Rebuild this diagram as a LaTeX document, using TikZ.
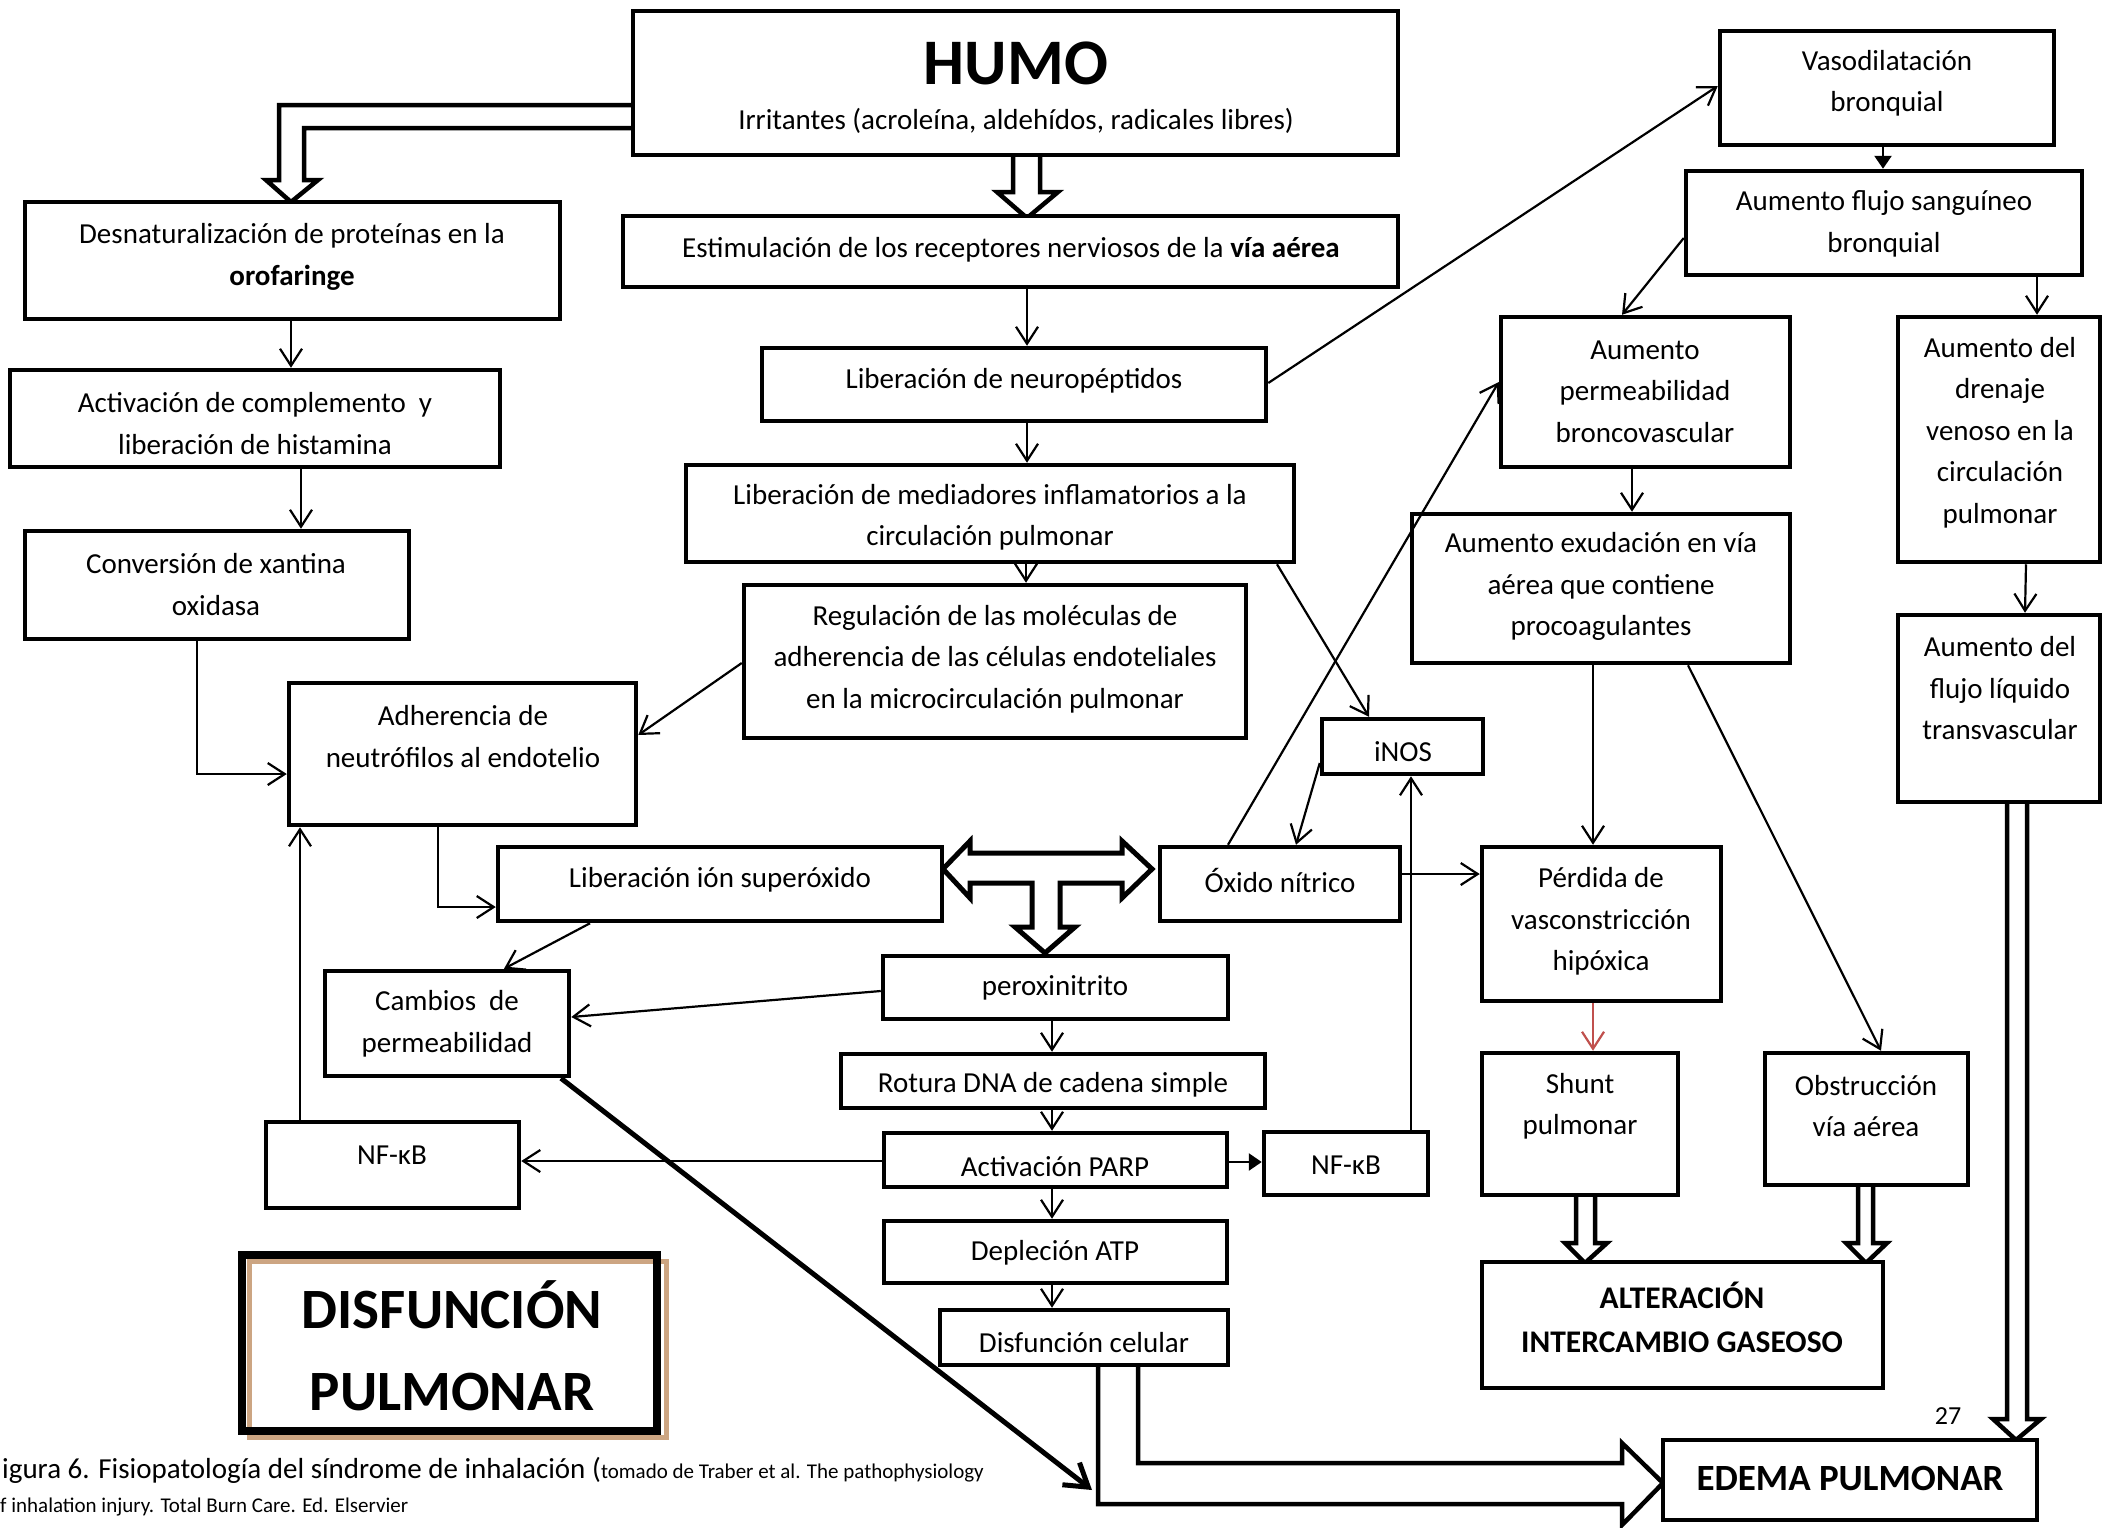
\documentclass[tikz,border=0pt]{standalone}
\usepackage{fontspec}
\setmainfont{Carlito}
\usetikzlibrary{arrows.meta,calc}
\definecolor{redarrow}{RGB}{192,80,77}
\definecolor{tanshadow}{RGB}{204,165,130}

% box from its corner coordinates: [style]{name}{x1}{y1}{x2}{y2}
\newcommand\cornerbox[6][]{%
  \pgfmathsetmacro\cbw{#5-#3}%
  \pgfmathsetmacro\cbh{#6-#4}%
  \pgfmathsetmacro\cbx{(#3+#5)/2}%
  \pgfmathsetmacro\cby{(#4+#6)/2}%
  \node[box,#1,minimum width=\cbw pt,minimum height=\cbh pt] (#2) at (\cbx,\cby) {};}

\begin{document}
\begin{tikzpicture}[x=1pt,y=-1pt,
  box/.style={draw,line width=4.5pt,fill=white,inner sep=0pt,rectangle},
  txt/.style={align=center,inner sep=0pt,font=\fontsize{29}{41.5}\selectfont},
  conn/.style={line width=2.2pt,-{Straight Barb[length=17pt,width=22pt]}},
  solidconn/.style={line width=2.6pt,-{Triangle[length=13pt,width=17pt]}},
  heavyconn/.style={line width=5pt,-{Straight Barb[length=22pt,width=28pt]}},
  hollow/.style={line width=4.5pt,fill=white,line join=miter},
]
\fill[white] (0,0) rectangle (2104,1527);
\useasboundingbox (0,0) rectangle (2104,1527);

% ---------- block arrows ----------
\draw[hollow] (633,105) -- (279,105) -- (279,180) -- (266,180) -- (291,202)
  -- (318,180) -- (304,180) -- (304,128) -- (633,128);
\draw[hollow] (1013,155) -- (1013,192) -- (997,192) -- (1027,218) -- (1058,192)
  -- (1040,192) -- (1040,155);
\draw[hollow] (2007,802) -- (2007,1419) -- (1993,1419) -- (2016,1440) -- (2041,1419)
  -- (2027,1419) -- (2027,802);
\draw[hollow] (1576,1195) -- (1576,1243) -- (1565,1243) -- (1585,1263) -- (1607,1243)
  -- (1595,1243) -- (1595,1195);
\draw[hollow] (1858,1185) -- (1858,1243) -- (1846,1243) -- (1866,1263) -- (1887,1243)
  -- (1873,1243) -- (1873,1185);
\draw[hollow] (1098,1365) -- (1098,1504) -- (1622,1504) -- (1622,1525) -- (1663,1483)
  -- (1622,1443) -- (1622,1463) -- (1138,1463) -- (1138,1365);
\draw[hollow,line width=5pt] (943,869) -- (970,841) -- (970,853) -- (1122,853) -- (1122,841)
  -- (1152,869) -- (1122,898) -- (1122,883) -- (1060,883) -- (1060,927) -- (1075,927)
  -- (1045,953) -- (1015,927) -- (1032,927) -- (1032,883) -- (970,883) -- (970,898) -- cycle;
\coordinate (edemain) at (1092,1490);

% ---------- boxes ----------
\cornerbox{humo}{633}{11}{1398}{155}
\cornerbox{estim}{623}{216}{1398}{287}
\cornerbox{desn}{25}{202}{560}{319}
\cornerbox{activ}{10}{370}{500}{467}
\cornerbox{conv}{25}{531}{409}{639}
\cornerbox{adh}{289}{683}{636}{825}
\cornerbox{regul}{744}{585}{1246}{738}
\cornerbox{neuro}{762}{348}{1266}{421}
\cornerbox{media}{686}{465}{1294}{562}
\cornerbox{inos}{1322}{719}{1483}{774}
\cornerbox{oxido}{1160}{847}{1400}{921}
\cornerbox{perdida}{1482}{847}{1721}{1001}
\cornerbox{permb}{1501}{317}{1790}{467}
\cornerbox{exud}{1412}{514}{1790}{663}
\cornerbox{vaso}{1720}{31}{2054}{145}
\cornerbox{flujo}{1686}{171}{2082}{275}
\cornerbox{drenaje}{1898}{317}{2100}{562}
\cornerbox{liquido}{1898}{615}{2100}{802}
\cornerbox{edema}{1663}{1440}{2037}{1520}
\cornerbox{shunt}{1482}{1053}{1678}{1195}
\cornerbox{obst}{1765}{1053}{1968}{1185}
\cornerbox{alter}{1482}{1262}{1883}{1388}
\cornerbox{superox}{498}{847}{942}{921}
\cornerbox{perox}{883}{956}{1228}{1019}
\cornerbox{cambios}{325}{971}{569}{1076}
\cornerbox{rotura}{841}{1054}{1265}{1108}
\cornerbox{parp}{884}{1133}{1227}{1187}
\cornerbox{nfr}{1264}{1132}{1428}{1195}
\cornerbox{nfl}{266}{1122}{519}{1208}
\cornerbox{atp}{884}{1221}{1227}{1283}
\cornerbox{celular}{940}{1310}{1228}{1365}

% framed title box with its tan shadow line
\fill[white] (242,1254.5) rectangle (657,1431);
\draw[tanshadow,line width=5pt] (249.5,1261) rectangle (666,1437.5);
\cornerbox[fill=none,line width=8pt]{disf}{242}{1254.5}{657}{1431}

% ---------- texts ----------
\node[inner sep=0pt,font=\fontsize{65}{70}\selectfont\bfseries] (humo-t) at (1016,63) {HUMO};
\node[txt] (humo-s) at (1016,121) {Irritantes (acroleína, aldehídos, radicales libres)};
\node[txt] (estim-t) at (1011,250) {Estimulación de los receptores nerviosos de la \textbf{vía aérea}};
\node[txt] (desn-t) at (292,257) {Desnaturalización de proteínas en la\\\textbf{orofaringe}};
\node[txt] (activ-t) at (255,423.5) {Activación de complemento\ \ y\\liberación de histamina};
\node[txt] (conv-t) at (216,584.5) {Conversión de xantina\\oxidasa};
\node[txt] (adh-t) at (463,736.5) {Adherencia de\\neutrófilos al endotelio};
\node[txt] (regul-t) at (995,659) {Regulación de las moléculas de\\adherencia de las células endoteliales\\en la microcirculación pulmonar};
\node[txt] (neuro-t) at (1014,381) {Liberación de neuropéptidos};
\node[txt] (media-t) at (990,517.5) {Liberación de mediadores inflamatorios a la\\circulación pulmonar};
\node[txt] (inos-t) at (1403,752) {iNOS};
\node[txt] (oxido-t) at (1280,880) {Óxido nítrico};
\node[txt] (perdida-t) at (1601,921.5) {Pérdida de\\vasconstricción\\hipóxica};
\node[txt] (permb-t) at (1645,391.5) {Aumento\\permeabilidad\\broncovascular};
\node[txt] (exud-t) at (1601,586.5) {Aumento exudación en vía\\aérea que contiene\\procoagulantes};
\node[txt] (vaso-t) at (1887,83.5) {Vasodilatación\\bronquial};
\node[txt] (flujo-t) at (1884,224) {Aumento flujo sanguíneo\\bronquial};
\node[txt] (drenaje-t) at (2000,432.5) {Aumento del\\drenaje\\venoso en la\\circulación\\pulmonar};
\node[txt] (liquido-t) at (2000,688.5) {Aumento del\\flujo líquido\\transvascular};
\node[inner sep=0pt,font=\fontsize{37}{44}\selectfont\bfseries] (edema-t) at (1850,1478) {EDEMA PULMONAR};
\node[txt] (shunt-t) at (1580,1106) {Shunt\\pulmonar};
\node[txt] (obst-t) at (1866,1106) {Obstrucción\\vía aérea};
\node[txt,font=\fontsize{31.5}{44}\selectfont\bfseries] (alter-t) at (1682,1317) {ALTERACIÓN\\INTERCAMBIO GASEOSO};
\node[txt] (superox-t) at (720,880) {Liberación ión superóxido};
\node[txt] (perox-t) at (1055,988) {peroxinitrito};
\node[txt] (cambios-t) at (447,1023.5) {Cambios\ \ de\\permeabilidad};
\node[txt] (rotura-t) at (1053,1085) {Rotura DNA de cadena simple};
\node[txt] (parp-t) at (1055,1167) {Activación PARP};
\node[txt] (nfr-t) at (1346,1165) {NF-κB};
\node[txt] (nfl-t) at (392,1155) {NF-κB};
\node[txt] (atp-t) at (1055,1253) {Depleción ATP};
\node[txt] (celular-t) at (1084,1343) {Disfunción celular};
\node[txt,font=\fontsize{57}{82}\selectfont\bfseries] (disf-t) at (452,1346) {DISFUNCIÓN\\PULMONAR};
\node[inner sep=0pt,font=\fontsize{26}{30}\selectfont] (pagenum) at (1948,1416) {27};
\node[anchor=base west,inner sep=0pt,font=\fontsize{29}{35}\selectfont] (cap1) at (2,1478)
  {igura 6. Fisiopatología del síndrome de inhalación (\fontsize{21}{25}\selectfont tomado de Traber et al. The pathophysiology};
\node[anchor=base west,inner sep=0pt,font=\fontsize{21}{25}\selectfont] (cap2) at (0,1512)
  {f inhalation injury. Total Burn Care. Ed. Elservier};

% ---------- connectors ----------
\draw[conn] (estim.south -| 1027,0) -- (neuro.north -| 1027,0);
\draw[conn] (neuro.south -| 1027,0) -- (media.north -| 1027,0);
\draw[conn] (media.south -| 1026,0) -- (regul.north -| 1026,0);
\draw[conn] (desn.south -| 291,0) -- (activ.north -| 291,0);
\draw[conn] (activ.south -| 301,0) -- (conv.north -| 301,0);
\draw[conn] (conv.south -| 197,0) |- (adh.west |- 0,774);
\draw[conn] (regul.west |- 0,663) -- (adh.east |- 0,735);
\draw[conn] (neuro.east |- 0,383) -- (vaso.west |- 0,86);
\draw[conn] (media.south -| 1277,0) -- (inos.north -| 1369,0);
\draw[conn] (inos.west |- 0,763) -- (oxido.north -| 1296,0);
\draw[conn] (oxido.north -| 1228,0) -- (permb.west |- 0,382);
\draw[conn] (oxido.east |- 0,874) -- (perdida.west |- 0,874);
\draw[solidconn] (vaso.south -| 1883,0) -- (flujo.north -| 1883,0);
\draw[conn] (flujo.west |- 0,238) -- (permb.north -| 1622,0);
\draw[conn] (flujo.south -| 2037,0) -- (drenaje.north -| 2037,0);
\draw[conn] (drenaje.south -| 2026,0) -- (liquido.north -| 2025,0);
\draw[conn] (permb.south -| 1632,0) -- (exud.north -| 1632,0);
\draw[conn] (exud.south -| 1593,0) -- (perdida.north -| 1593,0);
\draw[conn] (exud.south -| 1688,0) -- (obst.north -| 1881,0);
\draw[conn,redarrow] (perdida.south -| 1593,0) -- (shunt.north -| 1593,0);
\draw[conn] (adh.south -| 438,0) |- (superox.west |- 0,907);
\draw[conn] (superox.south -| 590,0) -- (cambios.north -| 504,0);
\draw[conn] (perox.west |- 0,991) -- (cambios.east |- 0,1017);
\draw[conn] (perox.south -| 1052,0) -- (rotura.north -| 1052,0);
\draw[conn] (rotura.south -| 1052,0) -- (parp.north -| 1052,0);
\draw[conn] (parp.south -| 1052,0) -- (atp.north -| 1052,0);
\draw[conn] (atp.south -| 1052,0) -- (celular.north -| 1052,0);
\draw[solidconn] (parp.east |- 0,1162) -- (nfr.west |- 0,1162);
\draw[conn] (parp.west |- 0,1161) -- (nfl.east |- 0,1161);
\draw[conn] (nfl.north -| 300,0) -- (adh.south -| 300,0);
\draw[conn] (nfr.north -| 1411,0) -- (inos.south -| 1411,0);
\draw[heavyconn] (cambios.south -| 561,0) -- (edemain);
\end{tikzpicture}
\end{document}
